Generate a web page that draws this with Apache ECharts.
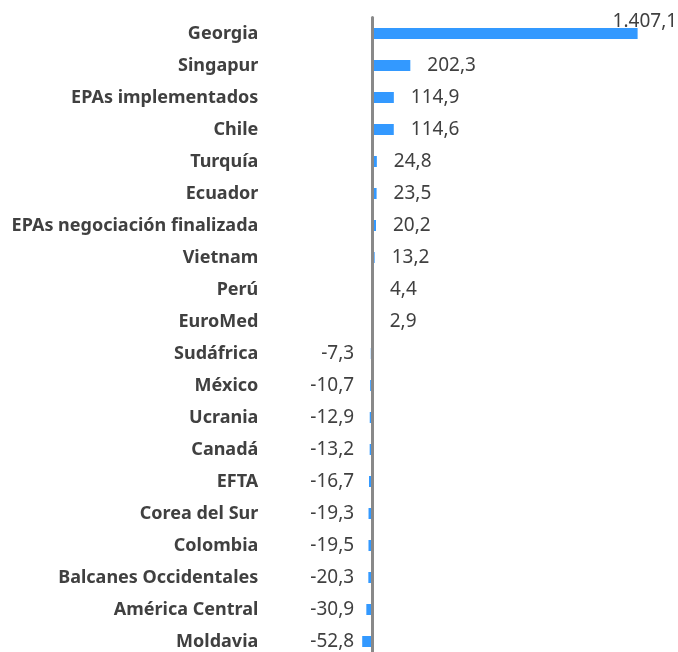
<!DOCTYPE html>
<html>
<head>
<meta charset="utf-8">
<script src="https://cdn.jsdelivr.net/npm/echarts@6/dist/echarts.min.js"></script>
<style>
	html, body { margin: 0; padding: 0; background: #fff; }
	#acuerdosChart { width: 678px; height: 652px; }
</style>
</head>
<body>
<div id="acuerdosChart"></div>
<script>
// categorías (de arriba a abajo)
const categorias = [
	'Georgia', 'Singapur', 'EPAs implementados', 'Chile', 'Turquía', 'Ecuador',
	'EPAs negociación finalizada', 'Vietnam', 'Perú', 'EuroMed', 'Sudáfrica',
	'México', 'Ucrania', 'Canadá', 'EFTA', 'Corea del Sur', 'Colombia',
	'Balcanes Occidentales', 'América Central', 'Moldavia'
]
// variación en %
const valores = [
	1407.1, 202.3, 114.9, 114.6, 24.8, 23.5, 20.2, 13.2, 4.4, 2.9,
	-7.3, -10.7, -12.9, -13.2, -16.7, -19.3, -19.5, -20.3, -30.9, -52.8
]

// 1407.1 -> "1.407,1"
const formatoES = (v) => {
	const partes = Math.abs(v).toFixed(1).split('.')
	const entero = partes[0].replace(/\B(?=(\d{3})+(?!\d))/g, '.')
	return (v < 0 ? '-' : '') + entero + ',' + partes[1]
}

const initChart = () => {
	const chartDom = document.getElementById('acuerdosChart')
	const myChart = echarts.init(chartDom)

	const datos = valores.map((v, i) => {
		if (i === 0) {
			// etiqueta de Georgia sobre el extremo de la barra
			return { value: v, label: { position: 'right', distance: 17, offset: [-42, -12] } }
		}
		if (v < 0) {
			return { value: v, label: { position: 'insideRight', distance: 18 } }
		}
		return { value: v, label: { position: 'right', distance: 17 } }
	})

	const options = {
		animation: false,
		grid: {
			left: 353.3,
			right: 4,
			top: 17.5,
			height: 640,
			outerBoundsMode: 'none'
		},
		xAxis: {
			type: 'value',
			min: -100,
			max: 1600,
			show: false
		},
		yAxis: {
			type: 'category',
			data: categorias,
			inverse: true,
			axisLine: {
				onZero: true,
				lineStyle: {
					color: '#898989',
					width: 3
				}
			},
			axisTick: { show: false },
			axisLabel: {
				color: '#404040',
				fontFamily: 'Noto Sans',
				fontWeight: 'bold',
				fontSize: 18,
				margin: 95
			},
			z: 5
		},
		series: [
			{
				type: 'bar',
				barWidth: 11,
				itemStyle: {
					color: '#3399ff'
				},
				label: {
					show: true,
					color: '#404040',
					fontFamily: 'Noto Sans',
					fontSize: 19,
					formatter: (p) => formatoES(p.value)
				},
				data: datos
			}
		]
	}

	myChart.setOption(options)
	return myChart
}

initChart()
</script>
</body>
</html>
